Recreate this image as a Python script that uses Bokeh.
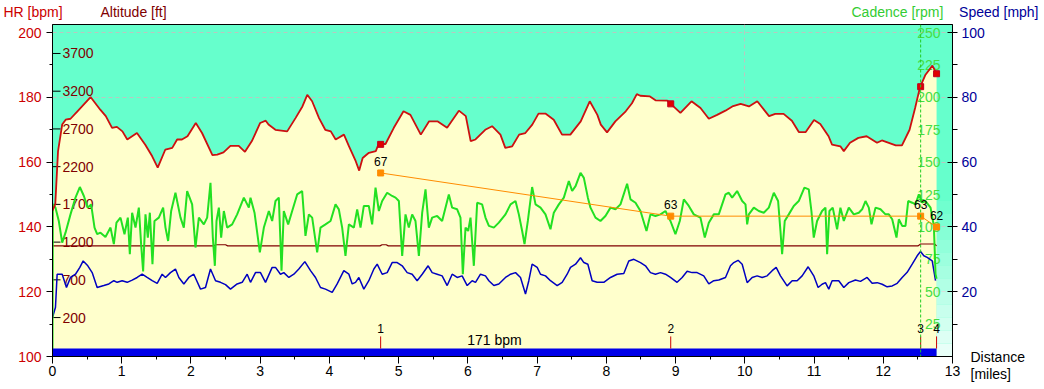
from bokeh.plotting import figure
from bokeh.layouts import column
from bokeh.models import Range1d, LinearAxis, SingleIntervalTicker, FixedTicker, Label, Span
from bokeh.core.properties import value
from bokeh.embed import file_html
from bokeh.resources import INLINE

FONT = "Liberation Sans"

# ---------------- data ----------------
hr_dist = [0.00, 0.04, 0.08, 0.14, 0.19, 0.26, 0.36, 0.55, 0.69, 0.77, 0.86, 0.93, 1.01, 1.08, 1.22,
           1.34, 1.44, 1.52, 1.63, 1.73, 1.80, 1.87, 1.95, 2.07, 2.16, 2.31, 2.38, 2.47, 2.57, 2.69,
           2.78, 2.88, 3.00, 3.08, 3.12, 3.22, 3.39, 3.51, 3.61, 3.68, 3.75, 3.85, 3.94, 4.02, 4.09,
           4.21, 4.28, 4.38, 4.43, 4.48, 4.57, 4.67, 4.71, 4.81, 4.93, 5.07, 5.17, 5.32, 5.44, 5.56,
           5.70, 5.87, 5.97, 6.04, 6.11, 6.25, 6.35, 6.47, 6.54, 6.64, 6.74, 6.83, 6.93, 7.02, 7.12,
           7.24, 7.36, 7.48, 7.63, 7.76, 7.87, 7.92, 8.01, 8.13, 8.28, 8.37, 8.44, 8.49, 8.63, 8.71,
           8.88, 8.93, 9.07, 9.23, 9.36, 9.48, 9.60, 9.72, 9.82, 9.94, 10.06, 10.18, 10.35, 10.44,
           10.56, 10.68, 10.78, 10.88, 11.00, 11.09, 11.21, 11.26, 11.38, 11.43, 11.52, 11.64, 11.76,
           11.91, 11.98, 12.18, 12.27, 12.38, 12.46, 12.53, 12.61, 12.71, 12.77]
hr_bpm = [145.0, 147.0, 163.4, 171.6, 173.1, 173.4, 175.7, 180.1, 176.2, 174.2, 170.6, 170.9, 169.5, 167.0, 169.0,
          165.4, 161.8, 158.3, 163.9, 164.4, 167.0, 167.0, 168.0, 172.1, 169.0, 162.2, 162.3, 163.0, 165.0, 165.0,
          163.2, 166.5, 172.1, 172.8, 171.6, 170.0, 169.5, 173.6, 177.2, 180.8, 178.8, 173.6, 170.0, 169.5, 167.0,
          168.5, 165.0, 160.3, 157.4, 161.3, 162.9, 163.4, 165.6, 165.6, 170.6, 175.7, 174.6, 168.5, 172.6, 172.6,
          170.6, 175.9, 174.2, 166.5, 167.0, 170.0, 171.1, 168.5, 164.4, 164.9, 168.5, 169.0, 171.6, 175.0, 175.0,
          173.1, 168.5, 168.5, 172.6, 178.8, 174.6, 171.6, 169.2, 172.6, 175.7, 178.2, 181.0, 180.5, 180.3, 179.1,
          179.0, 178.0, 175.2, 178.8, 176.7, 173.4, 174.6, 175.9, 177.2, 178.0, 177.2, 178.8, 174.2, 174.9,
          174.9, 172.8, 169.3, 169.3, 173.0, 171.8, 168.0, 165.4, 164.9, 163.4, 166.0, 167.5, 168.0,
          166.0, 166.7, 165.2, 165.2, 170.0, 176.7, 183.1, 187.0, 189.8, 187.2]

cad_dist = [0.0, 0.005, 0.043, 0.091, 0.14, 0.188, 0.26, 0.332, 0.395, 0.453, 0.51, 0.558, 0.607, 0.645, 0.693,
            0.765, 0.838, 0.886, 0.924, 0.982, 1.04, 1.088, 1.117, 1.15, 1.199, 1.247, 1.28, 1.309, 1.343,
            1.377, 1.406, 1.444, 1.473, 1.536, 1.598, 1.632, 1.67, 1.714, 1.776, 1.849, 1.897, 1.945, 2.017,
            2.065, 2.114, 2.186, 2.234, 2.282, 2.316, 2.345, 2.369, 2.403, 2.436, 2.475, 2.523, 2.595, 2.667,
            2.764, 2.836, 2.86, 2.918, 2.995, 3.053, 3.125, 3.173,
            3.221, 3.269, 3.308, 3.341, 3.404, 3.462, 3.534, 3.606, 3.654, 3.703, 3.751, 3.823, 3.871, 3.943,
            4.016, 4.088, 4.136, 4.184, 4.232, 4.281, 4.353, 4.401, 4.449, 4.497, 4.569, 4.617, 4.666, 4.714,
            4.762, 4.834, 4.906, 4.955, 5.003, 5.051, 5.099, 5.147, 5.195, 5.243, 5.292, 5.34, 5.388, 5.436,
            5.484, 5.556, 5.628, 5.725, 5.773, 5.845, 5.893, 5.927, 5.966, 6.004, 6.038, 6.086, 6.134, 6.206,
            6.254, 6.303, 6.375, 6.447,
            6.543, 6.616, 6.688, 6.736, 6.784, 6.818, 6.866, 6.928, 6.977, 7.049, 7.121, 7.193, 7.241, 7.314,
            7.386, 7.458, 7.506, 7.555, 7.627, 7.675, 7.733, 7.771, 7.843, 7.915, 7.987, 8.06, 8.132, 8.204,
            8.3, 8.349, 8.421, 8.493, 8.58, 8.637, 8.709, 8.782, 8.854, 8.926, 8.998, 9.061, 9.119, 9.191,
            9.263, 9.359, 9.422, 9.48, 9.552, 9.624,
            9.721, 9.769, 9.817, 9.889, 9.962, 10.01, 10.034, 10.058, 10.13, 10.202, 10.274, 10.347, 10.419,
            10.481, 10.515, 10.539, 10.577, 10.635, 10.707, 10.779, 10.861, 10.924, 10.962, 10.996, 11.044,
            11.116, 11.165, 11.189, 11.222, 11.27, 11.333, 11.381, 11.43, 11.502, 11.574, 11.647, 11.695,
            11.743, 11.791, 11.83, 11.888, 11.96, 12.032, 12.08, 12.129, 12.191, 12.225, 12.273, 12.321,
            12.36, 12.418, 12.466, 12.514, 12.562, 12.61, 12.683, 12.731, 12.755, 12.77]
cad_rpm = [0.0, 117.4, 114.9, 104.6, 87.9, 95.6, 109.7, 122.6, 130.8, 123.9, 114.9, 117.4, 99.5, 94.4, 95.6,
           92.3, 99.5, 86.7, 103.3, 107.2, 94.4, 107.2, 79.0, 111.0, 99.5, 114.9, 86.7, 65.6, 109.7,
           91.8, 111.0, 71.3, 104.6, 107.2, 114.9, 99.5, 89.2, 112.3, 126.4, 107.2, 99.5, 127.7, 117.4,
           84.1, 107.2, 102.0, 107.2, 134.1, 91.8, 70.0, 104.6, 114.9, 91.8, 112.3, 99.5, 102.0, 109.7,
           122.6, 114.9, 122.6, 111.0, 80.3, 99.5, 112.3, 104.6,
           120.0, 122.6, 66.2, 112.3, 102.0, 112.3, 125.1, 127.7, 93.1, 109.7, 107.2, 80.3, 99.5, 102.0,
           104.6, 117.4, 113.6, 99.5, 77.7, 102.0, 99.5, 113.6, 99.5, 116.2, 116.2, 102.0, 130.3, 112.3,
           120.0, 126.4, 123.9, 122.6, 120.0, 77.7, 109.7, 99.5, 109.7, 104.6, 77.7, 111.0, 129.0, 99.5,
           107.2, 108.5, 104.6, 125.1, 114.9, 113.6, 107.2, 63.6, 99.5, 96.9, 107.2, 70.0, 118.7, 117.4,
           107.2, 100.8, 99.5, 103.3,
           109.7, 117.4, 120.0, 109.7, 96.9, 86.7, 104.6, 130.8, 117.4, 114.9, 109.7, 98.2, 111.0, 117.4,
           122.6, 135.4, 127.7, 131.5, 141.8, 137.9, 122.6, 114.9, 107.2, 104.6, 108.5, 114.9, 113.6, 117.4,
           133.3, 121.3, 118.7, 112.3, 96.9, 109.7, 108.5, 109.7, 112.3, 104.6, 94.4, 104.6, 121.3, 116.2,
           109.7, 107.2, 91.8, 103.3, 109.7, 109.7,
           125.1, 126.4, 122.6, 127.7, 120.0, 117.4, 102.0, 109.7, 114.9, 112.3, 111.0, 114.9, 126.4,
           120.0, 96.9, 79.0, 104.6, 109.7, 116.2, 120.0, 130.3, 129.0, 112.3, 91.8, 104.6,
           112.3, 114.9, 79.0, 112.3, 114.9, 98.2, 114.9, 104.6, 114.9, 109.7, 111.0, 113.6,
           120.0, 114.9, 102.0, 114.9, 113.6, 109.7, 109.7, 105.9, 91.8, 105.9, 100.8, 100.8,
           120.0, 118.7, 117.4, 125.1, 118.7, 120.0, 114.9, 100.8, 63.6, 60.0]

spd_dist = [0.0, 0.043, 0.067, 0.14, 0.202, 0.26, 0.332, 0.395, 0.443, 0.51, 0.573, 0.645, 0.741, 0.814, 0.886,
            0.934, 1.006, 1.079, 1.151, 1.223, 1.295, 1.367, 1.44, 1.512, 1.584, 1.632, 1.704, 1.776, 1.825,
            1.897, 1.969, 2.041, 2.138, 2.21, 2.282, 2.355, 2.427, 2.499, 2.571, 2.667, 2.74, 2.812, 2.86,
            2.932, 3.004, 3.077, 3.173,
            3.221, 3.293, 3.341, 3.414, 3.486, 3.558, 3.645, 3.727, 3.799, 3.871, 3.943, 4.04, 4.112, 4.208,
            4.281, 4.329, 4.377, 4.425, 4.497, 4.569, 4.642, 4.69, 4.762, 4.834, 4.906, 4.979, 5.051, 5.123,
            5.195, 5.267, 5.34, 5.426, 5.484, 5.556, 5.628, 5.701, 5.773, 5.845, 5.917, 5.99, 6.062, 6.11,
            6.182, 6.254, 6.303, 6.375, 6.447,
            6.543, 6.616, 6.688, 6.76, 6.832, 6.88, 6.928, 7.001, 7.049, 7.121, 7.193, 7.29, 7.362, 7.434,
            7.482, 7.555, 7.627, 7.675, 7.733, 7.795, 7.867, 7.963, 8.06, 8.156, 8.252, 8.324, 8.397, 8.493,
            8.565, 8.637, 8.709, 8.782, 8.854, 8.926, 9.022, 9.095, 9.167, 9.239, 9.311, 9.407, 9.48, 9.552,
            9.624,
            9.721, 9.793, 9.841, 9.903, 9.962, 10.034, 10.106, 10.178, 10.251, 10.323, 10.395, 10.453,
            10.515, 10.611, 10.684, 10.756, 10.828, 10.915, 10.996, 11.059, 11.116, 11.165, 11.213, 11.261,
            11.357, 11.43, 11.502, 11.598, 11.671, 11.767, 11.839, 11.912, 11.984, 12.056, 12.129, 12.201,
            12.273, 12.345, 12.418, 12.49, 12.538, 12.586, 12.634, 12.707, 12.755]
spd_mph = [12.0, 15.2, 25.4, 25.4, 21.3, 24.4, 25.4, 27.5, 29.5, 28.0, 25.9, 21.3, 21.9, 22.4, 23.4,
           22.9, 23.4, 22.9, 23.6, 24.4, 25.4, 24.4, 23.4, 22.6, 25.4, 24.4, 25.9, 27.0, 24.4,
           22.4, 24.4, 25.4, 20.8, 21.3, 27.0, 23.4, 22.9, 22.2, 20.8, 22.4, 22.9, 25.4, 22.9,
           25.9, 25.9, 22.9, 27.5,
           27.5, 25.4, 25.9, 24.4, 25.4, 27.0, 29.3, 26.5, 24.4, 21.3, 20.8, 19.8, 22.4, 26.5,
           25.4, 22.4, 22.9, 24.4, 20.8, 23.4, 27.0, 28.5, 25.4, 25.9, 29.0, 29.0, 28.0, 25.9,
           25.4, 23.4, 25.4, 28.0, 25.9, 25.4, 24.9, 21.9, 25.4, 24.4, 24.9, 21.9, 23.4, 22.9,
           25.4, 24.9, 23.4, 21.9, 22.4,
           24.4, 25.4, 25.9, 24.4, 19.3, 23.4, 28.5, 27.5, 25.4, 24.9, 23.4, 21.9, 22.9, 25.4,
           27.5, 28.5, 30.5, 29.0, 28.5, 23.4, 22.9, 22.9, 24.4, 25.4, 25.6, 29.5, 30.0, 29.0,
           28.0, 25.9, 25.4, 25.9, 25.4, 24.4, 22.9, 24.4, 26.3, 25.9, 25.9, 24.9, 22.4, 23.4,
           23.6,
           24.4, 28.0, 29.0, 29.7, 28.5, 22.8, 24.4, 24.9, 24.4, 24.9, 26.5, 27.5,
           24.9, 21.8, 23.4, 23.4, 24.9, 27.7, 24.9, 21.3, 22.3, 22.8, 20.8, 23.4,
           23.4, 21.3, 22.8, 23.6, 23.2, 24.4, 22.6, 22.8, 22.3, 21.5, 21.8, 22.6,
           24.4, 26.0, 28.5, 31.1, 32.4, 31.1, 30.6, 29.5, 23.4]

alt_dist = [0.0, 2.33, 2.36, 2.50, 2.53, 4.73, 4.76, 4.82, 4.85, 12.50, 12.54, 12.74, 12.77]
alt_ft = [1150, 1150, 1165, 1165, 1150, 1150, 1165, 1165, 1150, 1150, 1175, 1175, 1150]

lap_dist = [4.74, 8.93, 12.54, 12.77]
lap_num = ["1", "2", "3", "4"]
lap_hr = [165.5, 178.0, 183.3, 187.3]
lap_val = [67, 63, 63, 62]
avg_hr_text = "171 bpm"

alt_ticks = [200, 700, 1200, 1700, 2200, 2700, 3200, 3700]
cad_ticks = [25, 50, 75, 100, 125, 150, 175, 200, 225, 250]
spd_ticks = [20, 40, 60, 80, 100]
spd_minor = [10, 30, 50, 70, 90]

titles = ["HR [bpm]", "Altitude [ft]", "Cadence [rpm]", "Speed [mph]"]
title_colors = ["#cc0000", "#800000", "#33cc33", "#000099"]

# ---------------- layout constants ----------------
W = 1044
TOP_H = 24
MAIN_H = 362
FL, FR, FB = 52, 92, 30


def no_align(fig):
    try:
        fig.frame_align = False
    except Exception:
        pass


# ---------------- title strip ----------------
top = figure(width=W, height=TOP_H, output_backend="svg", toolbar_location=None,
             x_range=Range1d(0, W), y_range=Range1d(TOP_H, 0),
             x_axis_location=None, y_axis_location=None,
             min_border_left=0, min_border_right=0, min_border_top=0, min_border_bottom=0)
no_align(top)
top.grid.visible = False
top.outline_line_color = None
top.background_fill_color = "white"
top.text(x=[3, 100, 851, 1038], y=[11] * 4, text=titles, text_color=title_colors,
         text_align=["left", "left", "left", "right"], text_baseline="middle",
         text_font=value(FONT), text_font_size=value("14px"))

# ---------------- main chart ----------------
p = figure(width=W, height=MAIN_H, output_backend="svg", toolbar_location=None,
           x_range=Range1d(0, 13), y_range=Range1d(100, 202.5),
           min_border_left=FL, min_border_right=FR, min_border_top=0, min_border_bottom=FB)
no_align(p)
p.extra_y_ranges = {"alt": Range1d(-316, 4084), "cad": Range1d(0, 256.25),
                    "spd": Range1d(0, 102.5), "lap": Range1d(50, 80.75)}
p.background_fill_color = "#66ffcc"
p.border_fill_color = "white"
p.outline_line_color = "black"
p.outline_line_width = 1

p.xgrid.ticker = SingleIntervalTicker(interval=10)
p.ygrid.ticker = SingleIntervalTicker(interval=20)
for g in (p.xgrid, p.ygrid):
    g.grid_line_color = "#b8c8c0"
    g.grid_line_dash = "4 3"
    g.grid_line_width = 1

xa = p.xaxis[0]
xa.ticker = SingleIntervalTicker(interval=1, num_minor_ticks=2)
xa.major_tick_in = 0
xa.major_tick_out = 7
xa.minor_tick_in = 0
xa.minor_tick_out = 3
xa.axis_line_color = "black"
xa.major_tick_line_color = "black"
xa.minor_tick_line_color = "black"
xa.major_label_text_font = FONT
xa.major_label_text_font_size = "14px"
xa.major_label_text_color = "black"
xa.major_label_standoff = 2

ya = p.yaxis[0]
ya.ticker = SingleIntervalTicker(interval=20, num_minor_ticks=2)
ya.major_tick_in = 0
ya.major_tick_out = 6
ya.minor_tick_in = 0
ya.minor_tick_out = 3
ya.axis_line_color = "black"
ya.major_tick_line_color = "black"
ya.minor_tick_line_color = "black"
ya.major_label_text_font = FONT
ya.major_label_text_font_size = "14px"
ya.major_label_text_color = "#cc0000"
ya.major_label_standoff = 5

sa = LinearAxis(y_range_name="spd", ticker=FixedTicker(ticks=spd_ticks, minor_ticks=spd_minor))
sa.major_tick_in = 5
sa.major_tick_out = 5
sa.minor_tick_in = 0
sa.minor_tick_out = 5
sa.axis_line_color = "black"
sa.major_tick_line_color = "black"
sa.minor_tick_line_color = "black"
sa.major_label_text_font = FONT
sa.major_label_text_font_size = "14px"
sa.major_label_text_color = "#000099"
sa.major_label_standoff = 4
p.add_layout(sa, "right")

p.add_layout(Label(x=-17, y=8, x_units="screen", y_units="screen", text="Distance\n[miles]",
                   text_color="black", text_align="left", text_baseline="top",
                   text_font=FONT, text_font_size="14px", text_line_height=1.1), "right")

# ---------------- glyphs ----------------
p.varea(x=hr_dist, y1=100, y2=hr_bpm, fill_color="#ffffcc")

end = hr_dist[-1]
nstrip = 12
for i in range(nstrip):
    b = 100 + i * 4.0
    p.quad(left=end, right=13, bottom=b, top=b + 4.0, fill_color="white",
           fill_alpha=0.85 * (1 - i / nstrip), line_color=None)

p.scatter(x=[0] * len(alt_ticks), y=alt_ticks, y_range_name="alt", marker="dash",
          size=16, line_color="black", line_width=1)
p.text(x=[0] * len(alt_ticks), y=alt_ticks, text=[str(t) for t in alt_ticks], y_range_name="alt",
       x_offset=10, text_align="left", text_baseline="middle", text_color="#800000",
       text_font=value(FONT), text_font_size=value("14px"))

p.text(x=[13] * len(cad_ticks), y=cad_ticks, text=[str(t) for t in cad_ticks], y_range_name="cad",
       x_offset=-12, text_align="right", text_baseline="middle", text_color="#44dd44",
       text_font=value(FONT), text_font_size=value("14px"))

p.add_layout(Span(location=lap_dist[2], dimension="height", line_color="#22cc22",
                  line_dash="3 2", line_width=1))

p.line(alt_dist, alt_ft, y_range_name="alt", line_color="#800000", line_width=1.2)
p.line(spd_dist, spd_mph, y_range_name="spd", line_color="#0000c0", line_width=1.5)
p.line(cad_dist, cad_rpm, y_range_name="cad", line_color="#22e022", line_width=2)
p.line(hr_dist, hr_bpm, line_color="#cc1010", line_width=1.8)
p.scatter(lap_dist, lap_hr, marker="square", size=6, fill_color="#e00000", line_color="#c00020")

p.line(lap_dist, lap_val, y_range_name="lap", line_color="#ff8c00", line_width=1)
p.scatter(lap_dist, lap_val, y_range_name="lap", marker="square", size=6,
          fill_color="#ff8c00", line_color="#ff8c00")
p.text(lap_dist, lap_val, text=[str(v) for v in lap_val], y_range_name="lap",
       y_offset=-7, text_align="center", text_baseline="bottom", text_color="black",
       text_font=value(FONT), text_font_size=value("12px"))

p.quad(left=0, right=end, bottom=100, top=102.45, fill_color="#0000e8", line_color=None)
p.segment(x0=lap_dist, y0=[102.45] * 4, x1=lap_dist, y1=[106.2] * 4, line_color="#cc0000", line_width=1)
p.text(lap_dist, [106.2] * 4, text=lap_num, y_offset=-3, text_align="center", text_baseline="bottom",
       text_color="black", text_font=value(FONT), text_font_size=value("12px"))
p.text([end / 2], [102.45], text=[avg_hr_text], y_offset=-1, text_align="center",
       text_baseline="bottom", text_color="black", text_font=value(FONT),
       text_font_size=value("14px"))

layout = column(top, p, spacing=0)
open("out.html", "w").write(file_html(layout, INLINE))
